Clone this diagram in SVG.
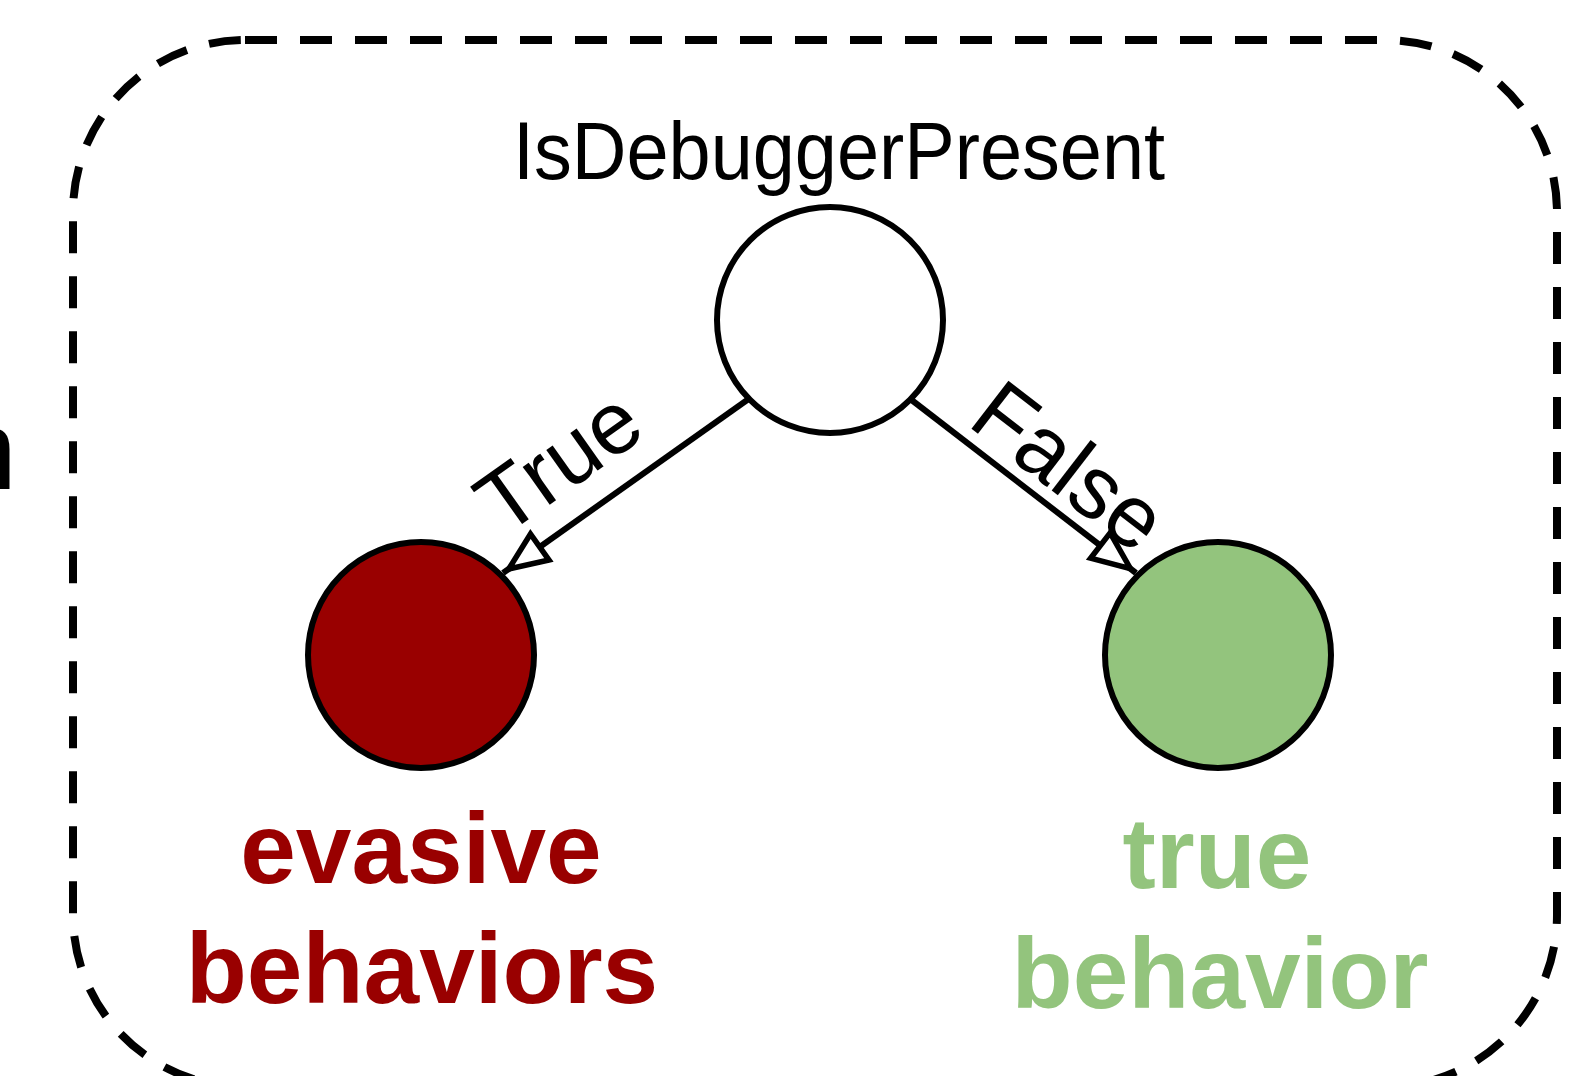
<svg xmlns="http://www.w3.org/2000/svg" width="1577" height="1076" viewBox="0 0 1577 1076">
<style>
.frame{fill:none;stroke:#000;stroke-width:8;stroke-dasharray:32 23}
.node{stroke:#000;stroke-width:6}
.edge{stroke:#000;stroke-width:6;fill:none}
.lbl{font-family:"Liberation Sans",Arial,sans-serif;font-size:88px;fill:#000}
.title{font-family:"Liberation Sans",Arial,sans-serif;font-size:82px;fill:#000}
.big{font-family:"Liberation Sans",Arial,sans-serif;font-weight:bold;font-size:100px;text-anchor:middle}
</style>
<defs>
<marker id="arr" markerUnits="userSpaceOnUse" viewBox="-6 -6 60 44" markerWidth="60" markerHeight="44" refX="45" refY="16" orient="auto" overflow="visible">
<path d="M0,0 L38,16 L0,32 Z" fill="#fff" stroke="#000" stroke-width="5.5"/>
</marker>
</defs>
<rect class="frame" x="73" y="40" width="1484" height="1047" rx="172" ry="172"/>
<text x="-46" y="489" style="font-family:'Liberation Sans',Arial,sans-serif;font-size:113px" fill="#000">n</text>
<g id="connectors">
<line class="edge" x1="750" y1="398" x2="503" y2="573" marker-end="url(#arr)"/>
<line class="edge" x1="909" y1="398" x2="1136" y2="573" marker-end="url(#arr)"/>
<text class="lbl" text-anchor="middle" transform="translate(576,486) rotate(-35.3)">True</text>
<text class="lbl" text-anchor="middle" transform="translate(1051,490) rotate(37.6)">False</text>
</g>
<g id="node-check">
<text class="title" x="839" y="179" text-anchor="middle" textLength="652" lengthAdjust="spacingAndGlyphs">IsDebuggerPresent</text>
<circle class="node" cx="830" cy="320" r="113" fill="#fff"/>
</g>
<g id="node-evasive">
<circle class="node" cx="421" cy="655" r="113" fill="#990000"/>
<text class="big" fill="#990000"><tspan x="421" y="883">evasive</tspan><tspan x="422" y="1003">behaviors</tspan></text>
</g>
<g id="node-true">
<circle class="node" cx="1218" cy="655" r="113" fill="#93c47d"/>
<text class="big" fill="#93c47d"><tspan x="1217" y="888">true</tspan><tspan x="1220" y="1008">behavior</tspan></text>
</g>
</svg>
